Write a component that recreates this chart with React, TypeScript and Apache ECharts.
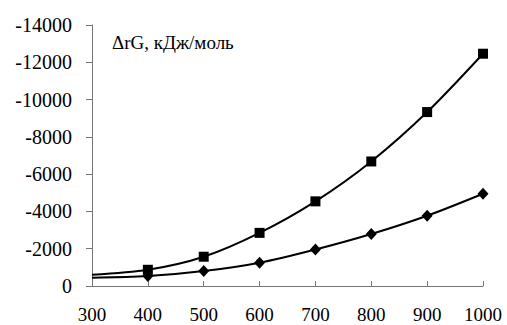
import React, { useEffect, useRef } from "react";
import * as echarts from "echarts";

const temps = [300, 400, 500, 600, 700, 800, 900, 1000];
const squareSeries = [-600, -870, -1570, -2850, -4540, -6680, -9330, -12460];
const diamondSeries = [-440, -530, -800, -1250, -1960, -2790, -3770, -4950];
const yLabelTitle = "ΔrG, кДж/моль";

export default function App() {
  const ref = useRef<HTMLDivElement>(null);
  useEffect(() => {
    const chart = echarts.init(ref.current!, null, { renderer: "svg" });
    const font = "serif";
    const mk = (vals: number[]) =>
      temps.map((t, i) => (i === 0 ? { value: [t, vals[i]], symbolSize: 0 } : { value: [t, vals[i]] }));
    chart.setOption({
      animation: false,
      grid: { left: 92, right: 24, top: 25, bottom: 39 },
      xAxis: {
        type: "value",
        min: 300,
        max: 1000,
        interval: 100,
        axisLine: { show: true, lineStyle: { color: "#777", width: 1 } },
        axisTick: { show: true, inside: true, length: 5, lineStyle: { color: "#777" } },
        splitLine: { show: false },
        axisLabel: { color: "#000", fontFamily: font, fontSize: 19, margin: 19, formatter: (v: number) => String(v) },
      },
      yAxis: {
        type: "value",
        min: -14000,
        max: 0,
        interval: 2000,
        inverse: true,
        axisLine: { show: true, lineStyle: { color: "#777", width: 1 } },
        axisTick: { show: true, inside: false, length: 6, lineStyle: { color: "#777" } },
        splitLine: { show: false },
        axisLabel: { color: "#000", fontFamily: font, fontSize: 20, margin: 20, formatter: (v: number) => String(v) },
      },
      graphic: [
        {
          type: "text",
          left: 112,
          top: 33,
          style: { text: yLabelTitle, fill: "#000", fontFamily: font, fontSize: 19 },
        },
      ],
      series: [
        {
          type: "line",
          data: mk(squareSeries),
          smooth: 0.3,
          symbol: "rect",
          symbolSize: 10,
          lineStyle: { color: "#000", width: 2 },
          itemStyle: { color: "#000" },
        },
        {
          type: "line",
          data: mk(diamondSeries),
          smooth: 0.3,
          symbol: "diamond",
          symbolSize: [11, 12],
          lineStyle: { color: "#000", width: 2 },
          itemStyle: { color: "#000" },
        },
      ],
    });
    return () => chart.dispose();
  }, []);
  return <div ref={ref} style={{ width: 507, height: 325, position: "absolute", left: 0, top: 0 }} />;
}
